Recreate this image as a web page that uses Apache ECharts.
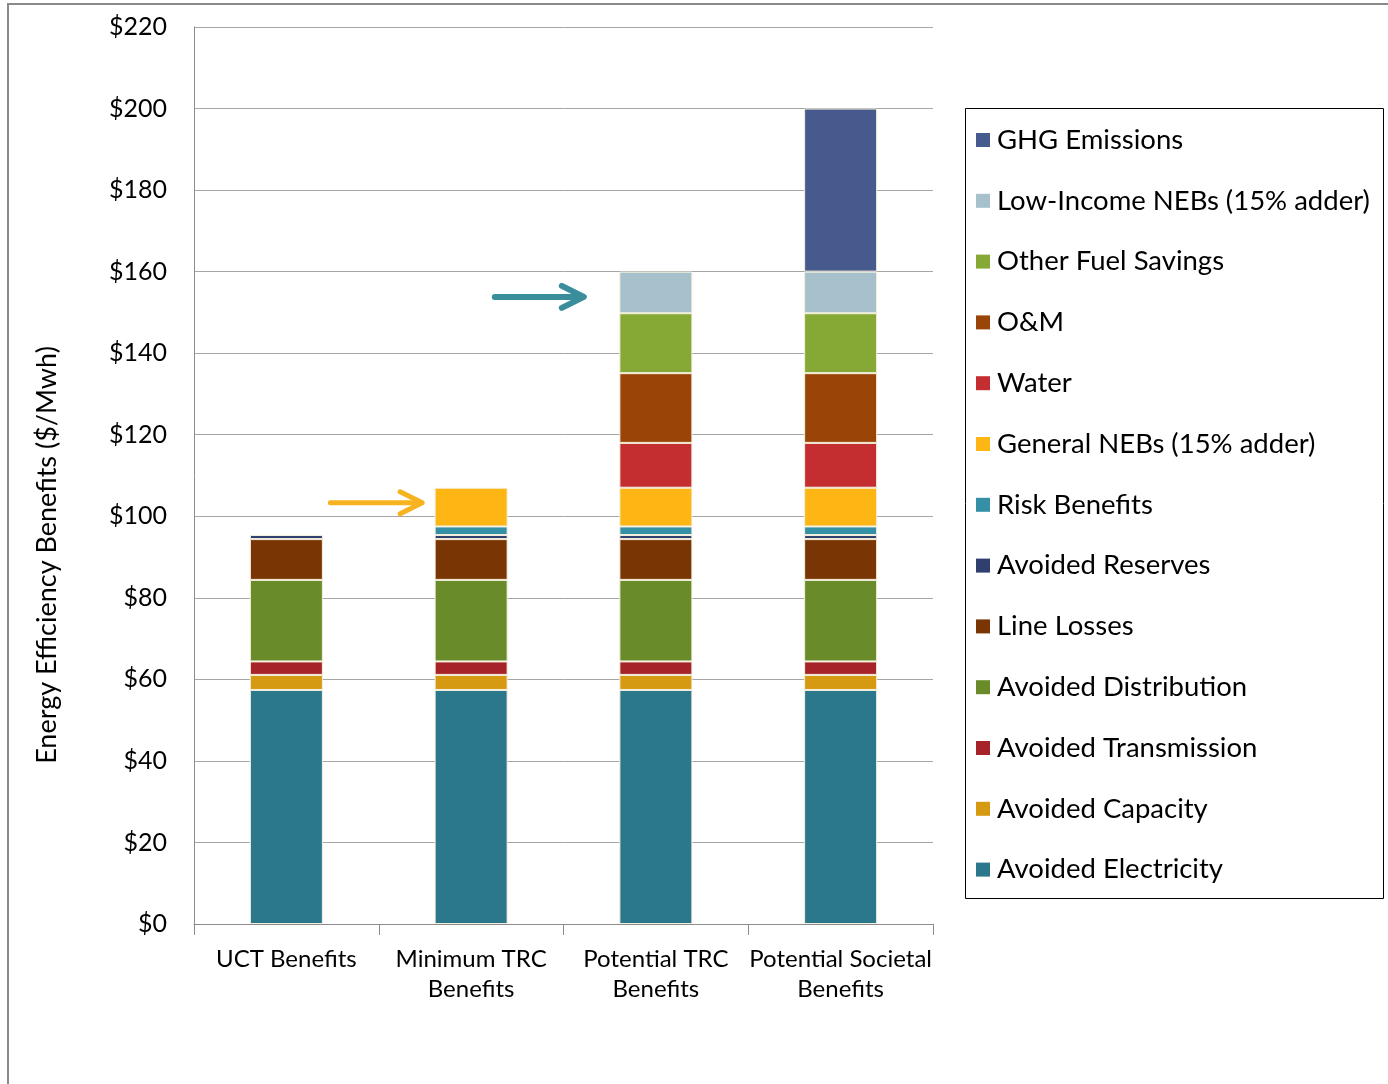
<!DOCTYPE html>
<html>
<head>
<meta charset="utf-8">
<script src="https://cdn.jsdelivr.net/npm/echarts@6/dist/echarts.min.js"></script>
<style>
  html, body { margin: 0; padding: 0; background: #fff; }
  #chart { width: 1388px; height: 1084px; }
</style>
</head>
<body>
<div id="chart"></div>
<script>
// Benefit categories along the x axis
const categories = ['UCT Benefits', 'Minimum TRC\nBenefits', 'Potential TRC\nBenefits', 'Potential Societal\nBenefits'];

// Stacked components, $/MWh (bottom of stack first)
const avoidedElectricity   = [57.4, 57.4, 57.4, 57.4];
const avoidedCapacity      = [3.7, 3.7, 3.7, 3.7];
const avoidedTransmission  = [3.3, 3.3, 3.3, 3.3];
const avoidedDistribution  = [20.0, 20.0, 20.0, 20.0];
const lineLosses           = [10.0, 10.0, 10.0, 10.0];
const avoidedReserves      = [1.0, 1.0, 1.0, 1.0];
const riskBenefits         = [null, 2.1, 2.1, 2.1];
const generalNEBs          = [null, 9.5, 9.5, 9.5];
const water                = [null, null, 11.0, 11.0];
const oAndM                = [null, null, 17.1, 17.1];
const otherFuelSavings     = [null, null, 14.7, 14.7];
const lowIncomeNEBs        = [null, null, 10.2, 10.2];
const ghgEmissions         = [null, null, null, 40.0];

// Y axis ticks
const yMin = 0, yMax = 220, yStep = 20;

const yTitle = 'Energy Efficiency Benefits ($/Mwh)';

const FONT = 'Lato, "Open Sans", sans-serif';

const stack = [
  { name: 'Avoided Electricity',          data: avoidedElectricity,  color: '#2b788c' },
  { name: 'Avoided Capacity',             data: avoidedCapacity,     color: '#d59a12' },
  { name: 'Avoided Transmission',         data: avoidedTransmission, color: '#a52329' },
  { name: 'Avoided Distribution',         data: avoidedDistribution, color: '#6a8b29' },
  { name: 'Line Losses',                  data: lineLosses,          color: '#7a3504' },
  { name: 'Avoided Reserves',             data: avoidedReserves,     color: '#2f3f6e' },
  { name: 'Risk Benefits',                data: riskBenefits,        color: '#3590a6' },
  { name: 'General NEBs (15% adder)',     data: generalNEBs,         color: '#fdb614' },
  { name: 'Water',                        data: water,               color: '#c42e31' },
  { name: 'O&M',                          data: oAndM,               color: '#9a4507' },
  { name: 'Other Fuel Savings',           data: otherFuelSavings,    color: '#86a935' },
  { name: 'Low-Income NEBs (15% adder)',  data: lowIncomeNEBs,       color: '#a6c1cc' },
  { name: 'GHG Emissions',                data: ghgEmissions,        color: '#465a8d' }
];

const chart = echarts.init(document.getElementById('chart'));

chart.setOption({
  backgroundColor: '#ffffff',
  animation: false,
  grid: { left: 194, right: 455, top: 27, bottom: 160 },
  legend: {
    orient: 'vertical',
    left: 976,
    top: 125,
    padding: 0,
    data: stack.map(s => s.name).reverse(),
    itemWidth: 14,
    itemHeight: 14,
    itemGap: 30.8,
    icon: 'rect',
    selectedMode: false,
    itemStyle: { borderWidth: 0 },
    textStyle: { fontFamily: FONT, fontSize: 27.5, color: '#000', lineHeight: 30, padding: [0, 0, 0, 2] }
  },
  xAxis: {
    type: 'category',
    data: categories,
    axisLine: { lineStyle: { color: '#8c8c8c', width: 1 } },
    axisTick: { show: true, alignWithLabel: false, length: 11, lineStyle: { color: '#8c8c8c' } },
    axisLabel: { fontFamily: FONT, fontSize: 24, color: '#000', lineHeight: 30, margin: 20, interval: 0 }
  },
  yAxis: {
    type: 'value',
    min: yMin,
    max: yMax,
    interval: yStep,
    axisLine: { show: true, lineStyle: { color: '#8c8c8c', width: 1 } },
    axisTick: { show: false },
    axisLabel: { fontFamily: FONT, fontSize: 25, color: '#000', margin: 27, formatter: v => '$' + v },
    splitLine: { lineStyle: { color: '#a6a6a6', width: 1 } }
  },
  series: stack.map(s => ({
    name: s.name,
    type: 'bar',
    stack: 'benefits',
    barWidth: 73,
    data: s.data,
    itemStyle: { color: s.color, borderColor: '#f4efdc', borderWidth: 1 }
  }))
});

// Annotation arrows placed in data space, then converted to pixels
function xAt(pos) {
  const p0 = chart.convertToPixel({ xAxisIndex: 0 }, 0);
  const p1 = chart.convertToPixel({ xAxisIndex: 0 }, 1);
  return p0 + (p1 - p0) * pos;
}
function yAt(v) { return chart.convertToPixel({ yAxisIndex: 0 }, v); }

function arrow(x0, x1, y, color, width) {
  return [
    { type: 'line', shape: { x1: x0, y1: y, x2: x1 - 3, y2: y },
      style: { stroke: color, lineWidth: width, lineCap: 'round' }, z: 20 },
    { type: 'polyline', shape: { points: [[x1 - 22, y - 11], [x1, y], [x1 - 22, y + 11]] },
      style: { stroke: color, lineWidth: width, lineCap: 'round', lineJoin: 'round', fill: null }, z: 20 }
  ];
}

const tealArrow = arrow(xAt(2 - 0.872), xAt(2 - 0.39), yAt(153.8), '#3a8e9c', 6);
const goldArrow = arrow(xAt(1 - 0.762), xAt(1 - 0.265), yAt(103.3), '#f7b21f', 5);

chart.setOption({
  graphic: [
    // page frame (top and left edges)
    { type: 'polyline', shape: { points: [[8, 1084], [8, 4], [1388, 4]] },
      style: { stroke: '#8a8a8a', lineWidth: 2, fill: null }, z: 1 },
    // legend box
    { type: 'rect', shape: { x: 965.5, y: 108.5, width: 418, height: 790 },
      style: { stroke: '#000', lineWidth: 1, fill: null }, z: 1 },
    // y axis title
    { type: 'text', x: 47, y: 555, rotation: Math.PI / 2,
      style: { text: yTitle, font: '27px ' + FONT, fill: '#000', align: 'center', verticalAlign: 'middle' }, z: 5 },
    ...tealArrow,
    ...goldArrow
  ]
});
</script>
</body>
</html>
